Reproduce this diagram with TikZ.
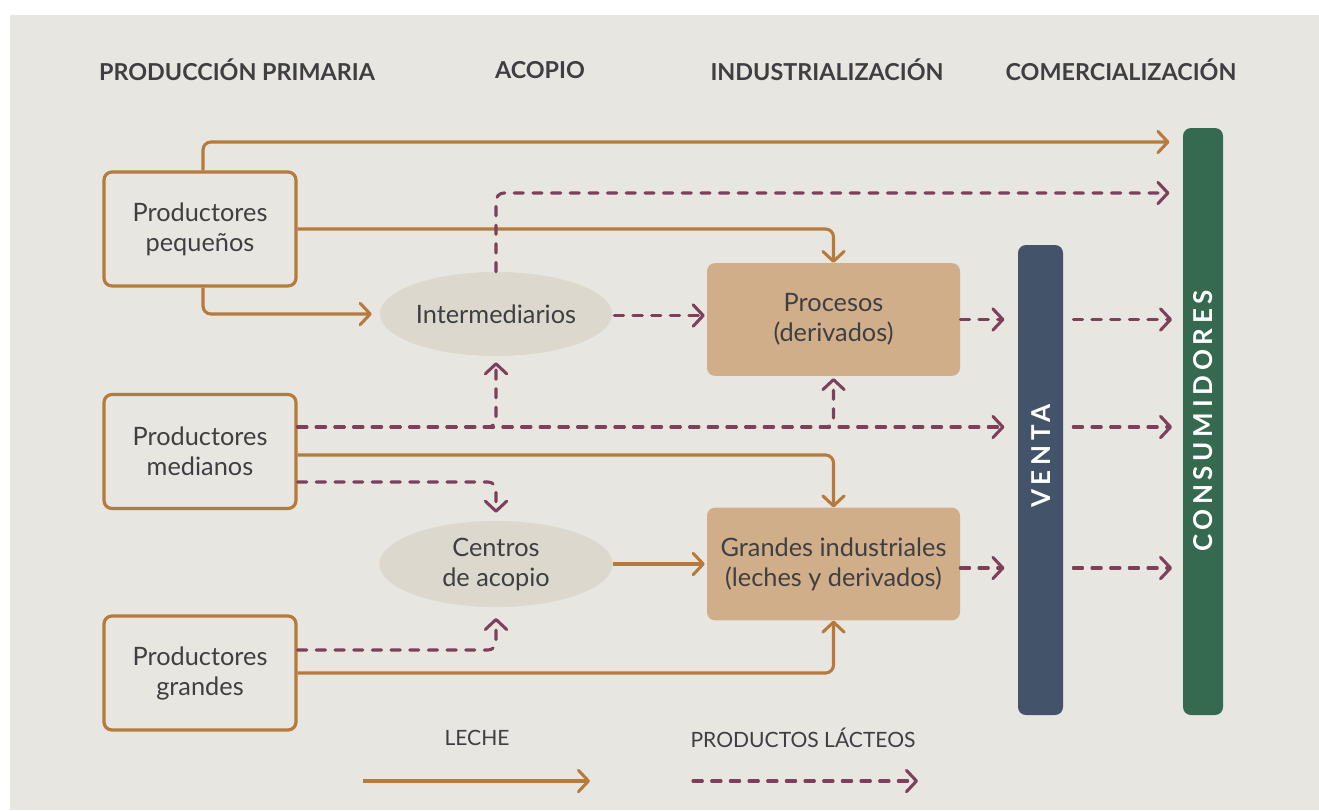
\documentclass[tikz,border=0pt]{standalone}
\usepackage{fontspec}
\setmainfont{Lato}
\usetikzlibrary{arrows.meta,shapes.geometric,calc}
\definecolor{bg}{HTML}{E8E6E1}
\definecolor{milk}{HTML}{B57A3C}
\definecolor{dairy}{HTML}{7E3F59}
\definecolor{tan}{HTML}{D1AE8A}
\definecolor{ell}{HTML}{DCD8CD}
\definecolor{venta}{HTML}{42536A}
\definecolor{cons}{HTML}{356A50}
\definecolor{txt}{HTML}{3F3F41}
\tikzset{
  x=0.75pt, y=-0.75pt,
  every node/.style={text=txt, font=\fontsize{19}{22.5}\selectfont, align=center},
  head/.style={font=\fontsize{17.5}{20}\selectfont\bfseries},
  legend/.style={font=\fontsize{15.8}{18}\selectfont},
  prodbox/.style={draw=milk, line width=2.4pt, rounded corners=6pt, minimum width=144pt, minimum height=85.5pt, inner sep=0pt},
  ellbox/.style={ellipse, fill=ell, minimum width=174pt, minimum height=63pt, inner sep=0pt},
  indbox/.style={fill=tan, rounded corners=6pt, minimum width=189.75pt, minimum height=84.5pt, inner sep=0pt},
  bar/.style={rounded corners=6pt, inner sep=0pt},
  bartext/.style={text=white, rotate=90, font=\fontsize{19.5}{22}\selectfont\bfseries\addfontfeature{LetterSpace=18}},
  tip/.style={-{Straight Barb[length=7.5pt,width=16pt,round]}},
  milkline/.style={draw=milk, line width=2.3pt, tip, rounded corners=6pt},
  dairyline/.style={draw=dairy, line width=2.3pt, tip, rounded corners=6pt, line cap=round, dash pattern=on 7pt off 7pt},
}
\begin{document}
\begin{tikzpicture}
\useasboundingbox (0,0) rectangle (1319,810);
\fill[bg] (10,15) rectangle (1319,810);

% headings
\node[head] (h1) at (237,70) {PRODUCCIÓN PRIMARIA};
\node[head] (h2) at (540,70) {ACOPIO};
\node[head] (h3) at (827,70) {INDUSTRIALIZACIÓN};
\node[head] (h4) at (1121,70) {COMERCIALIZACIÓN};

% producers
\node[prodbox] (peq) at (200,229) {Productores\\pequeños};
\node[prodbox] (med) at (200,451.5) {Productores\\medianos};
\node[prodbox] (gra) at (200,673) {Productores\\grandes};

% acopio
\node[ellbox] (inter) at (496,314) {Intermediarios};
\node[ellbox, minimum width=175pt, minimum height=64.5pt] (cent) at (496,564) {Centros\\de acopio};

% industry
\node[indbox] (proc) at (833.5,319.5) {Procesos\\(derivados)};
\node[indbox] (gind) at (833.5,564) {Grandes industriales\\(leches y derivados)};

% bars
\node[bar, fill=venta, minimum width=33.75pt, minimum height=352.5pt] (ven) at (1040.5,480) {};
\node[bar, fill=cons, minimum width=30pt, minimum height=440.25pt] (con) at (1203,421.5) {};
\node[bartext] (vt) at (1041,456) {VENTA};
\node[bartext] (ct) at (1203,421) {CONSUMIDORES};

% routing levels
\coordinate (yA) at (0,142);
\coordinate (yB) at (0,193);

% milk (solid)
\draw[milkline] ($(peq.north)+(3,0)$) |- ([xshift=-10pt]con.west |- yA);
\draw[milkline] (peq.east) -| (proc.north);
\draw[milkline, shorten >=6pt] ($(peq.south)+(3,0)$) |- (inter.west);
\draw[milkline] ($(med.east)+(0,3.5)$) -| (gind.north);
\draw[milkline, shorten >=1.5pt] (cent.east) -- (gind.west);
\draw[milkline] (gra.east) -| (gind.south);

% dairy (dashed)
\draw[dairyline] (inter.north) |- ([xshift=-10pt]con.west |- yB);
\draw[dairyline, shorten >=1.5pt] ($(inter.east)+(2,1.5)$) -- (proc.west |- 0,315.5);
\draw[dairyline] (proc.east) -- ([xshift=-10pt]ven.west |- proc.east);
\draw[dairyline] ([xshift=7.5pt]ven.east |- proc.east) -- ([xshift=-8pt]con.west |- proc.east);

\coordinate (m1) at ($(med.east)+(0,-24.5)$);
\draw[dairyline] (m1) -- ([xshift=-10pt]ven.west |- m1);
\draw[dairyline, shorten >=4.5pt] (m1) -| (inter.south);
\draw[dairyline, shorten >=1.5pt] (m1) -| (proc.south);
\draw[dairyline] ([xshift=7.5pt]ven.east |- m1) -- ([xshift=-8pt]con.west |- m1);

\draw[dairyline, shorten >=6pt] ($(med.east)+(0,30.5)$) -| (cent.north);

\draw[dairyline] ($(gind.east)+(0,4)$) -- ([xshift=-10pt]ven.west |- 0,568);
\draw[dairyline] ([xshift=7.5pt]ven.east |- 0,568) -- ([xshift=-8pt]con.west |- 0,568);

\draw[dairyline, shorten >=8pt] ($(gra.east)+(0,-23)$) -| (cent.south);

% legend
\node[legend] (l1) at (477,738) {LECHE};
\node[legend] (l2) at (803,738) {PRODUCTOS LÁCTEOS};
\coordinate (la) at (363,781);
\coordinate (lb) at (590,781);
\coordinate (lc) at (693,781);
\coordinate (ld) at (918,781);
\draw[milkline] (la) -- (lb);
\draw[dairyline] (lc) -- (ld);
\end{tikzpicture}
\end{document}
